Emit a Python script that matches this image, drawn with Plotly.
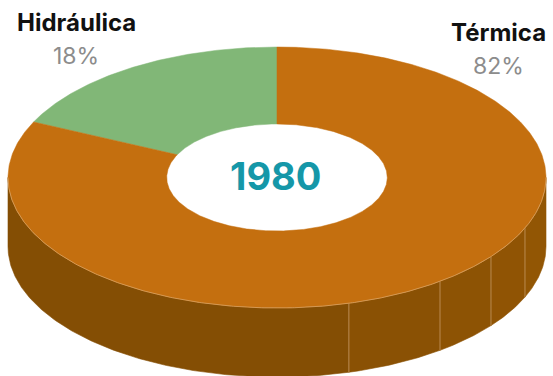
import numpy as np
import plotly.graph_objects as go

# ---- data ----
categories = ["Hidráulica", "Térmica"]
shares = [18, 82]                      # percent of generation
year_label = "1980"

# ---- styling ----
top_colors = ["#81B777", "#C46F0F"]
side_colors = ["#5E8A55", "#8A5104"]
label_color = "#111111"
pct_color = "#8C8C8C"
year_color = "#1597A8"
FONT = "Inter"

W, H = 553, 376
cx, cy = 277.0, 177.5        # centre of the top face
rx, ry = 269.0, 130.5        # outer ellipse radii
hole = 0.41                  # inner radius as fraction of outer
depth = 69.0                 # thickness of the ring
start_deg = 90.0             # first slice starts at 12 o'clock, counter-clockwise
seam_deg = [285.5, 307.3, 322.7, 337.2]   # facet seams on the front wall
seam_shade = [0.96, 1.0, 1.02, 1.04, 1.06]


def pt(t_deg, k=1.0, dy=0.0):
    t = np.radians(t_deg)
    return cx + k * rx * np.cos(t), cy - k * ry * np.sin(t) + dy


def arc(a0, a1, k=1.0, dy=0.0, n=None):
    n = n or max(int(abs(a1 - a0) * 2), 4)
    t = np.linspace(a0, a1, n)
    return pt(t, k, dy)


def shade(hex_color, f):
    h = hex_color.lstrip("#")
    rgb = [min(255, int(round(int(h[i:i + 2], 16) * f))) for i in (0, 2, 4)]
    return "#%02X%02X%02X" % tuple(rgb)


fig = go.Figure()

# slice angle ranges from the shares
total = float(sum(shares))
bounds = []
a = start_deg
for s in shares:
    b = a + 360.0 * s / total
    bounds.append((a, b))
    a = b

# ---- front wall (visible where the outer edge faces the viewer) ----
for (a0, a1), col in zip(bounds, side_colors):
    for off in (0.0, 360.0):
        lo, hi = max(a0, 180.0 + off), min(a1, 360.0 + off)
        if hi <= lo:
            continue
        cuts = [lo] + [s + off for s in seam_deg if lo < s + off < hi] + [hi]
        for i in range(len(cuts) - 1):
            s0, s1 = cuts[i], cuts[i + 1]
            idx = sum(1 for s in seam_deg if s + off < s1)
            fc = shade(col, seam_shade[min(idx, len(seam_shade) - 1)])
            xt, yt = arc(s0, s1)
            xb, yb = arc(s1, s0, dy=depth)
            fig.add_trace(go.Scatter(
                x=np.concatenate([xt, xb, xt[:1]]),
                y=np.concatenate([yt, yb, yt[:1]]),
                mode="lines", fill="toself", fillcolor=fc,
                line=dict(width=0.6, color=fc), hoverinfo="skip",
                showlegend=False))
        # thin light seams between wall facets
        for s in seam_deg:
            if lo < s + off < hi:
                x0, y0 = pt(s + off)
                fig.add_trace(go.Scatter(
                    x=[x0, x0], y=[y0, y0 + depth], mode="lines",
                    line=dict(width=1, color="#B98A52"), hoverinfo="skip",
                    showlegend=False))

# ---- top face: ring sectors ----
for (a0, a1), col, name, s in zip(bounds, top_colors, categories, shares):
    xo, yo = arc(a0, a1)
    xi, yi = arc(a1, a0, k=hole)
    fig.add_trace(go.Scatter(
        x=np.concatenate([xo, xi, xo[:1]]),
        y=np.concatenate([yo, yi, yo[:1]]),
        mode="lines", fill="toself", fillcolor=col,
        line=dict(width=0.5, color=col), name=name,
        hovertemplate=f"{name}: {s}%<extra></extra>", showlegend=False))

# light rim along the front edge of the top face
xr, yr = arc(180.0, 360.0)
fig.add_trace(go.Scatter(x=xr, y=yr, mode="lines",
                         line=dict(width=0.8, color="#D9A262"),
                         hoverinfo="skip", showlegend=False))

# ---- labels ----
label_pos = [(76, 22, 56), (498, 32, 66)]
annotations = []
for (lx, ly, py), name, s in zip(label_pos, categories, shares):
    annotations.append(dict(x=lx, y=ly, text=f"<b>{name}</b>", showarrow=False,
                            xref="x", yref="y", xanchor="center", yanchor="middle",
                            font=dict(family=FONT, size=24, color=label_color)))
    annotations.append(dict(x=lx, y=py, text=f"{s}%", showarrow=False,
                            xref="x", yref="y", xanchor="center", yanchor="middle",
                            font=dict(family=FONT, size=23, color=pct_color)))
annotations.append(dict(x=cx - 2, y=cy - 2, text=f"<b>{year_label}</b>", showarrow=False,
                        xref="x", yref="y", xanchor="center", yanchor="middle",
                        font=dict(family=FONT, size=38, color=year_color)))

fig.update_layout(
    width=W, height=H,
    margin=dict(l=0, r=0, t=0, b=0),
    paper_bgcolor="white", plot_bgcolor="white",
    xaxis=dict(range=[0, W], visible=False, fixedrange=True),
    yaxis=dict(range=[H, 0], visible=False, fixedrange=True),
    annotations=annotations,
    showlegend=False,
)

fig.write_html("out.html")
